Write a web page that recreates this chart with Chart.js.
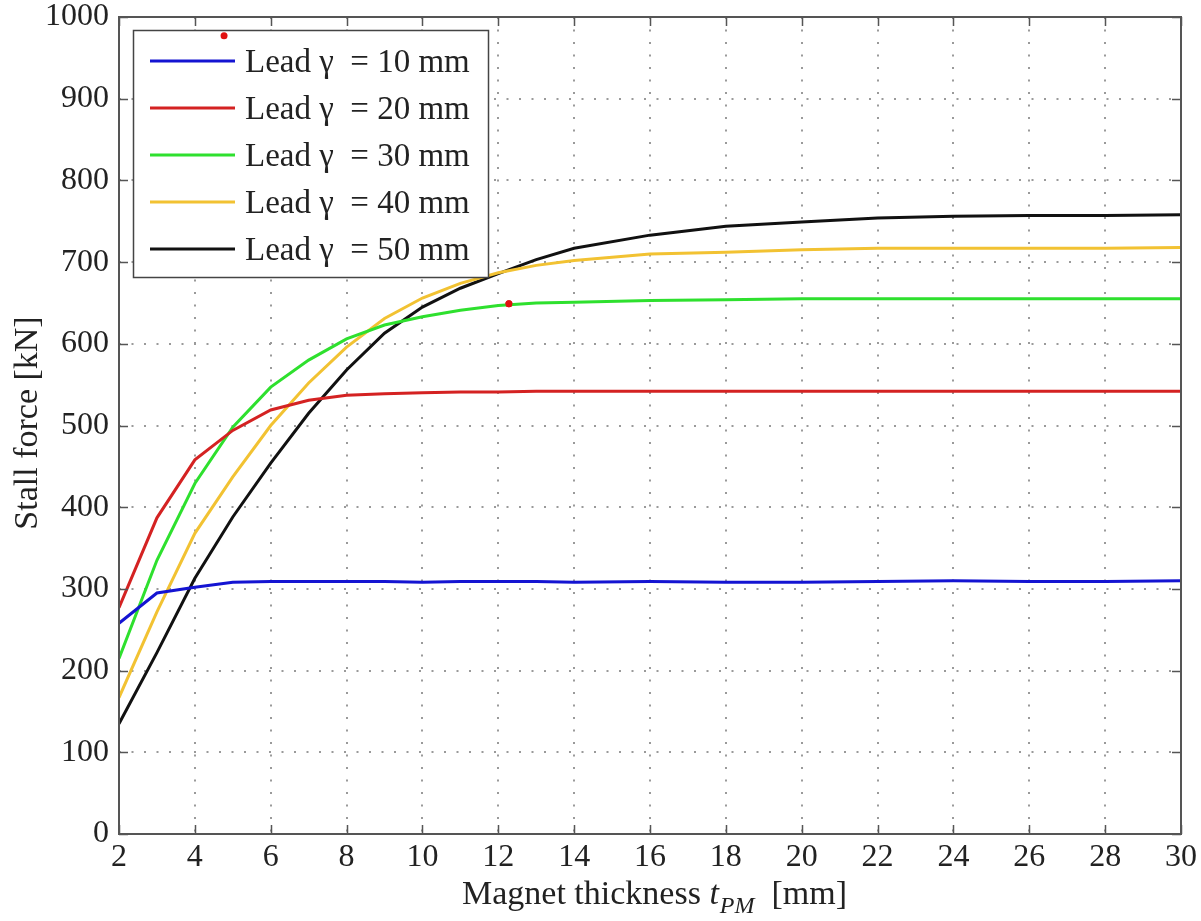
<!DOCTYPE html>
<html>
<head>
<meta charset="utf-8">
<script src="https://cdn.jsdelivr.net/npm/chart.js"></script>
<style>
  html, body { margin: 0; padding: 0; background: #fff; }
  #wrap { width: 1201px; height: 921px; }
</style>
</head>
<body>
<div id="wrap"><canvas id="stallChart" width="1201" height="921"></canvas></div>
<script>
// Magnet thickness t_PM [mm]
const thickness = [2, 3, 4, 5, 6, 7, 8, 9, 10, 11, 12, 13, 14, 16, 18, 20, 22, 24, 26, 28, 30];

// Stall force [kN] per lead
const lead10 = [258, 295, 302, 308, 309, 309, 309, 309, 308, 309, 309, 309, 308, 309, 308, 308, 309, 310, 309, 309, 310];
const lead20 = [277, 387, 458, 494, 519, 531, 537, 539, 540, 541, 541, 542, 542, 542, 542, 542, 542, 542, 542, 542, 542];
const lead30 = [215, 335, 429, 498, 547, 580, 606, 623, 633, 641, 647, 650, 651, 653, 654, 655, 655, 655, 655, 655, 655];
const lead40 = [167, 272, 368, 437, 500, 552, 596, 631, 656, 674, 687, 696, 702, 710, 712, 715, 717, 717, 717, 717, 718];
const lead50 = [135, 222, 313, 388, 454, 515, 568, 613, 645, 668, 686, 703, 717, 733, 744, 749, 754, 756, 757, 757, 758];

const seriesLabels = ['Lead \u03B3  = 10 mm', 'Lead \u03B3  = 20 mm', 'Lead \u03B3  = 30 mm', 'Lead \u03B3  = 40 mm', 'Lead \u03B3  = 50 mm'];
const seriesColors = ['#1414d2', '#d42222', '#2ee02e', '#f2c232', '#111111'];

// stray red marker dots visible in the figure
const markerX = [4.77, 12.28];
const markerY = [977, 649];

const xTicks = [2, 4, 6, 8, 10, 12, 14, 16, 18, 20, 22, 24, 26, 28, 30];

const SERIF = '"Liberation Serif", "Times New Roman", serif';

function toPoints(xs, ys) {
  return xs.map((x, i) => ({ x: x, y: ys[i] }));
}

const allSeries = [lead10, lead20, lead30, lead40, lead50];

const datasets = allSeries.map((vals, i) => ({
  label: seriesLabels[i],
  data: toPoints(thickness, vals),
  borderColor: seriesColors[i],
  backgroundColor: seriesColors[i],
  borderWidth: 3,
  pointRadius: 0,
  tension: 0,
  fill: false
}));

datasets.push({
  label: 'markers',
  data: toPoints(markerX, markerY),
  showLine: false,
  pointRadius: 3.5,
  pointBackgroundColor: '#e01010',
  pointBorderWidth: 0,
  borderColor: '#e01010'
});

// box, inward ticks, axis titles and legend drawn like the MATLAB figure
const matlabFrame = {
  id: 'matlabFrame',
  afterDraw(chart) {
    const { ctx, chartArea: a, scales } = chart;
    const xs = scales.x, ys = scales.y;
    ctx.save();

    // inward tick marks on all four sides
    ctx.strokeStyle = '#555';
    ctx.lineWidth = 1.5;
    const tl = 9;
    ctx.beginPath();
    xTicks.forEach(v => {
      const px = Math.round(xs.getPixelForValue(v)) + 0.5;
      ctx.moveTo(px, a.bottom); ctx.lineTo(px, a.bottom - tl);
      ctx.moveTo(px, a.top); ctx.lineTo(px, a.top + tl);
    });
    ys.ticks.forEach(t => {
      const py = Math.round(ys.getPixelForValue(t.value)) + 0.5;
      ctx.moveTo(a.left, py); ctx.lineTo(a.left + tl, py);
      ctx.moveTo(a.right, py); ctx.lineTo(a.right - tl, py);
    });
    ctx.stroke();

    // outer box
    ctx.strokeStyle = '#555';
    ctx.lineWidth = 2;
    ctx.strokeRect(a.left, a.top, a.right - a.left, a.bottom - a.top);

    // legend
    const lx = 133, ly = 30, lw = 355, lh = 247;
    ctx.fillStyle = '#fff';
    ctx.fillRect(lx, ly, lw, lh);
    ctx.strokeStyle = '#444';
    ctx.lineWidth = 1.5;
    ctx.strokeRect(lx + 0.5, ly + 0.5, lw, lh);
    ctx.font = '33px ' + SERIF;
    ctx.textBaseline = 'middle';
    ctx.textAlign = 'left';
    for (let i = 0; i < 5; i++) {
      const ds = chart.data.datasets[i];
      const yy = 61 + i * 47;
      ctx.strokeStyle = ds.borderColor;
      ctx.lineWidth = 3;
      ctx.beginPath();
      ctx.moveTo(150, yy); ctx.lineTo(235, yy);
      ctx.stroke();
      ctx.fillStyle = '#222';
      ctx.fillText(ds.label, 245, yy + 2);
    }

    // marker dots sit on top of the legend box
    const markerMeta = chart.getDatasetMeta(5);
    markerMeta.data.forEach(el => el.draw(ctx, a));

    // y axis title
    ctx.fillStyle = '#222';
    ctx.font = '34px ' + SERIF;
    ctx.textAlign = 'center';
    ctx.textBaseline = 'middle';
    ctx.save();
    ctx.translate(28, 423);
    ctx.rotate(-Math.PI / 2);
    ctx.fillText('Stall force [kN]', 0, 0);
    ctx.restore();

    // x axis title with italic subscript
    const base = 904;
    const partA = 'Magnet thickness ';
    const partT = 't';
    const partSub = 'PM';
    const partB = '  [mm]';
    ctx.textAlign = 'left';
    ctx.textBaseline = 'alphabetic';
    ctx.font = '34px ' + SERIF;
    const wA = ctx.measureText(partA).width;
    ctx.font = 'italic 34px ' + SERIF;
    const wT = ctx.measureText(partT).width;
    ctx.font = 'italic 24px ' + SERIF;
    const wS = ctx.measureText(partSub).width;
    let cx = 462;
    ctx.font = '34px ' + SERIF;
    ctx.fillText(partA, cx, base); cx += wA;
    ctx.font = 'italic 34px ' + SERIF;
    ctx.fillText(partT, cx, base); cx += wT;
    ctx.font = 'italic 24px ' + SERIF;
    ctx.fillText(partSub, cx + 1, base + 9); cx += wS + 1;
    ctx.font = '34px ' + SERIF;
    ctx.fillText(partB, cx, base);

    ctx.restore();
  }
};

new Chart(document.getElementById('stallChart'), {
  type: 'line',
  data: { datasets: datasets },
  options: {
    responsive: false,
    animation: false,
    layout: { padding: { left: 0, top: 17, right: 20, bottom: 0 } },
    plugins: {
      legend: { display: false },
      tooltip: { enabled: false }
    },
    scales: {
      x: {
        type: 'linear',
        min: 2,
        max: 30,
        afterBuildTicks: scale => { scale.ticks = xTicks.map(v => ({ value: v })); },
        afterFit: scale => {
          scale.height = 87;
          scale.paddingLeft = 0;
          scale.paddingRight = 0;
        },
        ticks: {
          color: '#222',
          font: { family: SERIF, size: 32 },
          padding: 4,
          maxRotation: 0,
          autoSkip: false,
          callback: v => String(v)
        },
        grid: {
          color: '#9a9a9a',
          lineWidth: 2,
          drawTicks: false
        },
        border: { display: false, dash: [2, 10.5] }
      },
      y: {
        min: 0,
        max: 1000,
        afterFit: scale => {
          scale.width = 119;
          scale.paddingTop = 0;
          scale.paddingBottom = 0;
        },
        ticks: {
          stepSize: 100,
          color: '#222',
          font: { family: SERIF, size: 32 },
          padding: 10,
          callback: v => String(v)
        },
        grid: {
          color: '#9a9a9a',
          lineWidth: 2,
          drawTicks: false
        },
        border: { display: false, dash: [2, 10.5] }
      }
    }
  },
  plugins: [matlabFrame]
});
</script>
</body>
</html>
